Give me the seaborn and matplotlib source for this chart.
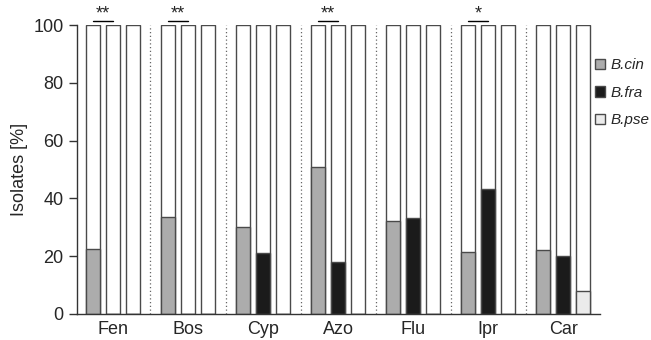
import matplotlib
matplotlib.use("Agg")
import matplotlib.pyplot as plt
import seaborn as sns
import pandas as pd
from matplotlib.patches import Patch

categories = ["Fen", "Bos", "Cyp", "Azo", "Flu", "Ipr", "Car"]
species = ["B.cin", "B.fra", "B.pse"]
b_cin = [22.5, 33.5, 30.0, 50.7, 32.0, 21.5, 22.2]
b_fra = [0, 0, 21.2, 18.0, 33.3, 43.2, 20.1]
b_pse = [0, 0, 0, 0, 0, 0, 8.0]
# significance: (category, label) drawn between B.cin and B.fra bars
sig_cats = ["Fen", "Bos", "Azo", "Ipr"]
sig_labels = ["**", "**", "**", "*"]

colors = {"B.cin": "#acacac", "B.fra": "#1b1b1b", "B.pse": "#ebebeb"}
edge = "#4a4a4a"

rows = []
for i, c in enumerate(categories):
    for s, vals in zip(species, [b_cin, b_fra, b_pse]):
        rows.append({"cat": c, "species": s, "value": vals[i], "full": 100})
df = pd.DataFrame(rows)

sns.set_style("ticks")
plt.rcParams["font.family"] = ["Liberation Sans", "DejaVu Sans"]

fig = plt.figure(figsize=(6.51, 3.4), dpi=100)
ax = fig.add_axes([0.118, 0.077, 0.804, 0.849])

sns.barplot(data=df, x="cat", y="full", hue="species", order=categories,
            hue_order=species, palette=["white"] * 3, width=0.8, gap=0.3,
            edgecolor=edge, linewidth=1.0, legend=False, ax=ax, errorbar=None)
sns.barplot(data=df, x="cat", y="value", hue="species", order=categories,
            hue_order=species, palette=colors, width=0.8, gap=0.3,
            edgecolor=edge, linewidth=1.0, legend=False, ax=ax, errorbar=None)

for i in range(len(categories) - 1):
    ax.plot([i + 0.5, i + 0.5], [0, 100], linestyle=(0, (1, 2)),
            color="#666666", linewidth=0.9)

off = 0.8 / 3
for c, lab in zip(sig_cats, sig_labels):
    i = categories.index(c)
    x1, x2 = i - off, i
    ax.plot([x1, x2], [101.5, 101.5], color="black", linewidth=1.0, clip_on=False)
    ax.text((x1 + x2) / 2, 100.8, lab, ha="center", va="bottom", fontsize=13,
            clip_on=False)

ax.set_xlim(-0.48, 6.49)
ax.set_ylim(0, 100)
ax.set_yticks([0, 20, 40, 60, 80, 100])
ax.set_xlabel("")
ax.set_ylabel("Isolates [%]", fontsize=13)
ax.tick_params(axis="y", labelsize=13, length=6, width=1, color="#333333")
ax.tick_params(axis="x", labelsize=13, length=0, pad=5.5)
sns.despine(ax=ax)
for sp in ["left", "bottom"]:
    ax.spines[sp].set_color("#333333")
    ax.spines[sp].set_linewidth(1.0)

handles = [Patch(facecolor=colors[s], edgecolor=edge, linewidth=1.0, label=s)
           for s in species]
leg = ax.legend(handles=handles, loc="upper left", bbox_to_anchor=(0.99, 0.885),
                frameon=False, handlelength=0.65, handleheight=0.65,
                handletextpad=0.4, labelspacing=0.88, borderaxespad=0,
                borderpad=0, prop={"style": "italic", "size": 11})

fig.savefig("out.png", dpi=100)
